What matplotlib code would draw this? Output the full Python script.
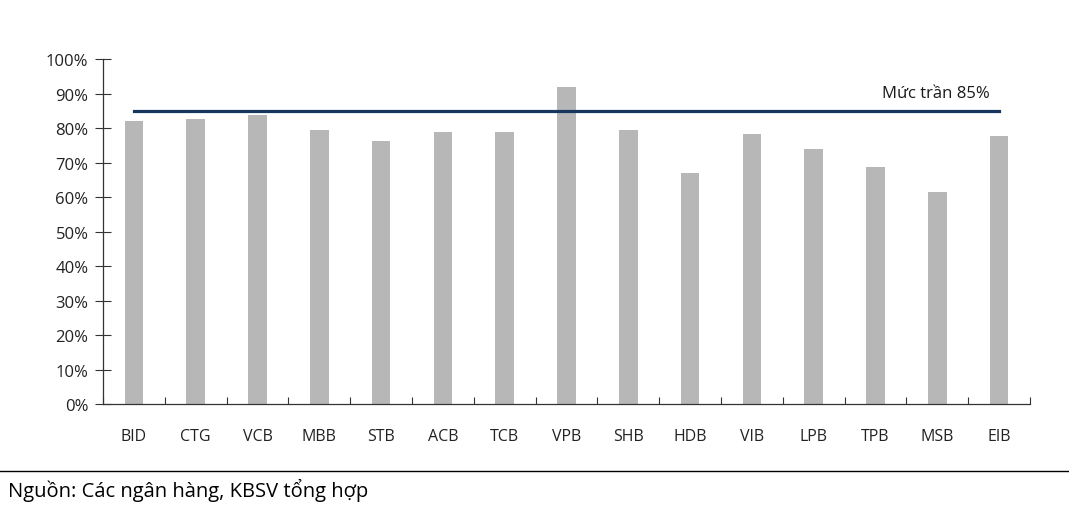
import matplotlib
matplotlib.use("Agg")
import matplotlib.pyplot as plt
from matplotlib.ticker import PercentFormatter, FixedLocator
from matplotlib.lines import Line2D

banks = ["BID", "CTG", "VCB", "MBB", "STB", "ACB", "TCB", "VPB", "SHB",
         "HDB", "VIB", "LPB", "TPB", "MSB", "EIB"]
ldr = [82.0, 82.6, 83.8, 79.5, 76.2, 78.8, 78.9, 92.0, 79.5,
       66.9, 78.3, 73.9, 68.6, 61.4, 77.8]
cap_value = 85
cap_label = "Mức trần 85%"
source = "Nguồn: Các ngân hàng, KBSV tổng hợp"
yticks = list(range(0, 101, 10))

plt.rcParams['font.family'] = ['Open Sans', 'DejaVu Sans']

fig = plt.figure(figsize=(10.69, 5.10), dpi=100)
ax = fig.add_axes([0.0964, 0.2059, 0.9635 - 0.0964, 0.882 - 0.2059])

x = list(range(len(banks)))
ax.bar(x, ldr, width=0.3, color="#b7b7b7", zorder=2)
ax.plot([x[0], x[-1]], [cap_value, cap_value], color="#17365d", lw=2.3, zorder=3)
ax.text(x[-1] - 0.15, cap_value + 5.2, cap_label, ha="right", va="center",
        fontsize=12, color="#1a1a1a")

ax.set_xlim(-0.5, len(banks) - 0.5)
ax.set_ylim(0, 100)
ax.set_yticks(yticks)
ax.yaxis.set_major_formatter(PercentFormatter(decimals=0))
ax.xaxis.set_major_locator(FixedLocator([i - 0.5 for i in range(len(banks) + 1)]))
ax.set_xticklabels([])
ax.xaxis.set_minor_locator(FixedLocator(x))
ax.set_xticklabels(banks, minor=True)
ax.tick_params(axis="x", which="major", direction="in", length=5, width=0.8, color="#333333")
ax.tick_params(axis="x", which="minor", length=0, pad=17, labelsize=11.5, labelcolor="#222222")
ax.tick_params(axis="y", direction="inout", length=11, width=0.8, color="#333333",
               labelsize=12, labelcolor="#222222", pad=5)

for s in ["top", "right"]:
    ax.spines[s].set_visible(False)
for s in ["left", "bottom"]:
    ax.spines[s].set_color("#333333")
    ax.spines[s].set_linewidth(0.9)

fig.add_artist(Line2D([0, 1], [1 - 472 / 510, 1 - 472 / 510], color="black", lw=1.0,
                      transform=fig.transFigure))
fig.text(8 / 1069, 1 - 490 / 510, source, ha="left", va="center", fontsize=14.5, color="black")

fig.savefig("out.png", dpi=100)
